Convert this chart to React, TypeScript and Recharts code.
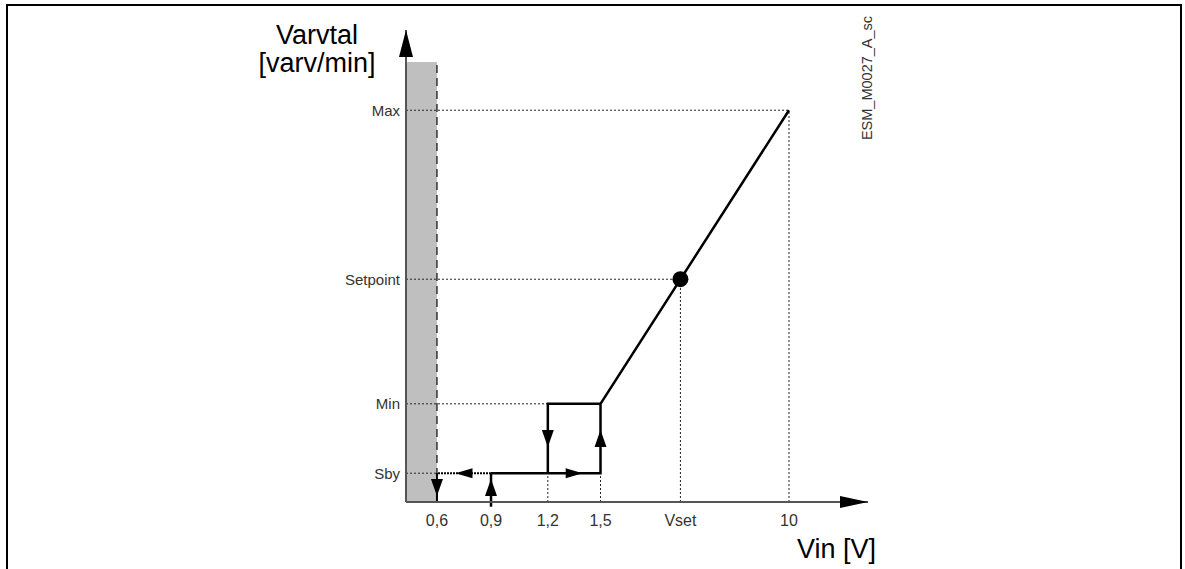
import React from "react";
import {ComposedChart, Line, ReferenceArea, ReferenceLine, Scatter, XAxis, YAxis} from "recharts";

// schematic axis units: both axes run 0..100 along the drawn arrows
const xTickLabels = ["0,6", "0,9", "1,2", "1,5", "Vset", "10"];
const xTickPos = [6.7, 18.4, 30.7, 42.1, 59.4, 82.9];
const yTickLabels = ["Sby", "Min", "Setpoint", "Max"];
const yTickPos = [6.1, 20.8, 47.2, 83.0];
const bandTop = 93.2;

const [x06, x09, x12, x15, xSet, x10] = xTickPos;
const [ySby, yMin, ySet, yMax] = yTickPos;

// main control curve
const risePath = [
    {x: x09, y: ySby},
    {x: x15, y: ySby},
    {x: x15, y: yMin},
    {x: x10, y: yMax},
];
const dropPath = [
    {x: x15, y: yMin},
    {x: x12, y: yMin},
    {x: x12, y: ySby},
];
const stopPath = [
    {x: x09, y: ySby},
    {x: x06, y: ySby},
];
const limitLine = [
    {x: x06, y: 0},
    {x: x06, y: bandTop},
];

const flowArrows = [
    {x: (x12 + x15) / 2, y: ySby, dir: "right"},
    {x: x15, y: (ySby + yMin) / 2, dir: "up"},
    {x: x12, y: (ySby + yMin) / 2, dir: "down"},
    {x: (x06 + x09) / 2, y: ySby, dir: "left"},
    {x: x09, y: ySby / 2, dir: "up"},
    {x: x06, y: ySby / 2, dir: "down"},
];
const axisArrows = [
    {x: 0, y: 100, dir: "up"},
    {x: 100, y: 0, dir: "right"},
];
const setpointDot = [{x: xSet, y: ySet}];

const guides = [
    [{x: 0, y: yMax}, {x: x10, y: yMax}],
    [{x: x10, y: 0}, {x: x10, y: yMax}],
    [{x: 0, y: ySet}, {x: xSet, y: ySet}],
    [{x: xSet, y: 0}, {x: xSet, y: ySet}],
    [{x: 0, y: yMin}, {x: x12, y: yMin}],
    [{x: 0, y: ySby}, {x: x06, y: ySby}],
    [{x: x12, y: 0}, {x: x12, y: ySby}],
    [{x: x15, y: 0}, {x: x15, y: ySby}],
];

const font = "'Liberation Sans', Arial, sans-serif";

const tri = (cx: number, cy: number, dir: string, len: number, half: number, tipAtPoint: boolean) => {
    const a = tipAtPoint ? 0 : len / 2;
    if (dir === "up") return `${cx},${cy - a} ${cx - half},${cy - a + len} ${cx + half},${cy - a + len}`;
    if (dir === "down") return `${cx},${cy + a} ${cx - half},${cy + a - len} ${cx + half},${cy + a - len}`;
    if (dir === "left") return `${cx - a},${cy} ${cx - a + len},${cy - half} ${cx - a + len},${cy + half}`;
    return `${cx + a},${cy} ${cx + a - len},${cy - half} ${cx + a - len},${cy + half}`;
};

const FlowArrow = (props: any) => {
    const {cx, cy, payload} = props;
    const vertical = payload.dir === "up" || payload.dir === "down";
    return <polygon points={tri(cx, cy, payload.dir, 17, vertical ? 6 : 5, false)} fill="#000"/>;
};

const AxisArrow = (props: any) => {
    const {cx, cy, payload} = props;
    const vertical = payload.dir === "up";
    return <polygon points={tri(cx, cy, payload.dir, vertical ? 27 : 28, vertical ? 7 : 6, true)} fill="#000"/>;
};

const Dot = (props: any) => <circle cx={props.cx} cy={props.cy} r={8} fill="#000"/>;

const bigText = {position: "absolute" as const, fontSize: 27, lineHeight: "28px", color: "#000", whiteSpace: "nowrap" as const};

export default function App() {
    return <div style={{position: "relative", width: 1185, height: 569, overflow: "hidden", background: "#fff", fontFamily: font}}>
        <style>{"body{margin:0}"}</style>
        <div style={{position: "absolute", left: 6, top: 4, width: 1176, height: 640, border: "2px solid #000", boxSizing: "border-box"}}/>
        <ComposedChart width={1185} height={569} margin={{top: 30, right: 317, bottom: 27, left: 326}}
                       style={{position: "absolute", left: 0, top: 0}}>
            <XAxis type="number" dataKey="x" domain={[0, 100]} ticks={xTickPos} interval={0}
                   tickFormatter={(v: number) => xTickLabels[xTickPos.indexOf(v)] ?? ""}
                   tickLine={false} tickSize={0} tickMargin={13} height={40}
                   axisLine={{stroke: "#555", strokeWidth: 2}}
                   tick={{fill: "#333", fontSize: 16, fontFamily: font}}/>
            <YAxis type="number" dataKey="y" domain={[0, 100]} ticks={yTickPos} interval={0}
                   tickFormatter={(v: number) => yTickLabels[yTickPos.indexOf(v)] ?? ""}
                   tickLine={false} tickSize={0} tickMargin={6} width={80}
                   axisLine={{stroke: "#555", strokeWidth: 2}}
                   tick={{fill: "#333", fontSize: 15, fontFamily: font}}/>
            <ReferenceArea x1={0} x2={x06} y1={0} y2={bandTop} fill="#bfbfbf" fillOpacity={1} stroke="none"/>
            {guides.map((seg, i) =>
                <ReferenceLine key={i} segment={seg} stroke="#222" strokeWidth={1} strokeDasharray="2 2"/>)}
            <Line data={limitLine} dataKey="y" type="linear" stroke="#333" strokeWidth={1.5}
                  strokeDasharray="8 5" dot={false} isAnimationActive={false}/>
            <ReferenceLine segment={[{x: x06, y: ySby}, {x: x06, y: 0}]} stroke="#000" strokeWidth={2}/>
            <ReferenceLine segment={[{x: x09, y: -1}, {x: x09, y: ySby}]} stroke="#000" strokeWidth={2.5}
                           ifOverflow="visible"/>
            <Line data={stopPath} dataKey="y" type="linear" stroke="#000" strokeWidth={2}
                  strokeDasharray="2 1" dot={false} isAnimationActive={false}/>
            <Line data={dropPath} dataKey="y" type="linear" stroke="#000" strokeWidth={2.5}
                  dot={false} isAnimationActive={false}/>
            <Line data={risePath} dataKey="y" type="linear" stroke="#000" strokeWidth={2.5}
                  dot={false} isAnimationActive={false}/>
            <Scatter data={flowArrows} shape={FlowArrow} isAnimationActive={false}/>
            <Scatter data={axisArrows} shape={AxisArrow} isAnimationActive={false}/>
            <Scatter data={setpointDot} shape={Dot} isAnimationActive={false}/>
        </ComposedChart>
        <div style={{...bigText, left: 217, top: 21, width: 200, textAlign: "center"}}>Varvtal</div>
        <div style={{...bigText, left: 217, top: 49, width: 200, textAlign: "center"}}>[varv/min]</div>
        <div style={{...bigText, left: 676, top: 535, width: 200, textAlign: "right"}}>Vin [V]</div>
        <div style={{position: "absolute", left: 867, top: 78, transform: "translate(-50%, -50%) rotate(-90deg)",
            fontSize: 14.5, color: "#333", whiteSpace: "nowrap"}}>
            ESM_M0027_A_sc
        </div>
    </div>;
}
